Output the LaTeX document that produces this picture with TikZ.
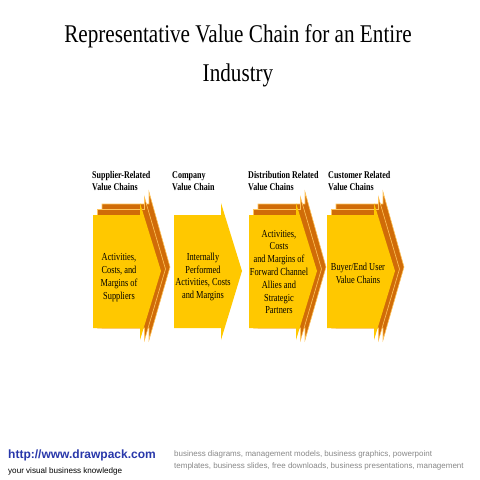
\documentclass[tikz,border=0pt]{standalone}
\usepackage{fontspec}
\setmainfont{Liberation Serif}
\newfontfamily\titlefont[FakeStretch=0.83]{Liberation Serif}
\newfontfamily\boxfont[FakeStretch=0.78]{Liberation Serif}
\newfontfamily\footfont{Liberation Sans}

\definecolor{chainyellow}{RGB}{255,200,0}
\definecolor{chainorange}{RGB}{208,108,8}
\definecolor{chainedge}{RGB}{255,196,90}
\definecolor{linkblue}{RGB}{40,55,170}
\definecolor{footgray}{RGB}{135,135,135}

\tikzset{
  front/.style={fill=chainyellow},
  back/.style={fill=chainorange, draw=chainedge, line width=0.6pt},
  chainhead/.style={font=\boxfont\bfseries\fontsize{10.3}{12}\selectfont, anchor=north west, align=left, inner sep=0pt},
  chainbody/.style={font=\boxfont\fontsize{10.7}{12.8}\selectfont, align=center, inner sep=0pt},
}

\begin{document}
\begin{tikzpicture}[x=1pt,y=-1pt]

\useasboundingbox (0,0) rectangle (480,480);

\node[font=\titlefont\fontsize{25.5}{38.5}\selectfont, align=center, anchor=north, inner sep=0pt] (title) at (238,24.6)
  {Representative Value Chain for an Entire\\Industry};

% supplier
\begin{scope}[xshift=93pt]
\filldraw[back] (9,204) -- (56,204) -- (56,192) -- (77,267) -- (56,340) -- (56,328) -- (9,328) -- cycle;
\filldraw[back] (4.5,209.5) -- (51.5,209.5) -- (51.5,197.5) -- (72.5,269) -- (51.5,340) -- (51.5,328) -- (4.5,328) -- cycle;
\fill[front] (0,215) -- (47,215) -- (47,203) -- (68,271) -- (47,340) -- (47,328) -- (0,328) -- cycle;

\node[chainhead] (suphead) at (-1,171) {Supplier-Related\\Value Chains};
\node[chainbody] (supbody) at (26,277.5) {Activities,\\Costs, and\\Margins of\\Suppliers};
\end{scope}

% company
\begin{scope}[xshift=174pt]
\fill[front] (0,215) -- (47,215) -- (47,203) -- (68,271) -- (47,340) -- (47,328) -- (0,328) -- cycle;

\node[chainhead] (comphead) at (-2,171) {Company\\Value Chain};
\node[chainbody] (compbody) at (29,277) {Internally\\Performed\\Activities, Costs\\and Margins};
\end{scope}

% distribution
\begin{scope}[xshift=249pt]
\filldraw[back] (9,204) -- (56,204) -- (56,192) -- (77,267) -- (56,340) -- (56,328) -- (9,328) -- cycle;
\filldraw[back] (4.5,209.5) -- (51.5,209.5) -- (51.5,197.5) -- (72.5,269) -- (51.5,340) -- (51.5,328) -- (4.5,328) -- cycle;
\fill[front] (0,215) -- (47,215) -- (47,203) -- (68,271) -- (47,340) -- (47,328) -- (0,328) -- cycle;

\node[chainhead] (disthead) at (-1,171) {Distribution Related\\Value Chains};
\node[chainbody] (distbody) at (30,272) {Activities,\\Costs\\and Margins of\\Forward Channel\\Allies and\\Strategic\\Partners};
\end{scope}

% customer
\begin{scope}[xshift=327pt]
\filldraw[back] (9,204) -- (56,204) -- (56,192) -- (77,267) -- (56,340) -- (56,328) -- (9,328) -- cycle;
\filldraw[back] (4.5,209.5) -- (51.5,209.5) -- (51.5,197.5) -- (72.5,269) -- (51.5,340) -- (51.5,328) -- (4.5,328) -- cycle;
\fill[front] (0,215) -- (47,215) -- (47,203) -- (68,271) -- (47,340) -- (47,328) -- (0,328) -- cycle;

\node[chainhead] (custhead) at (1,171) {Customer Related\\Value Chains};
\node[chainbody] (custbody) at (31,273) {Buyer/End User\\Value Chains};
\end{scope}

% footer
\node[font=\footfont\bfseries\fontsize{12}{14}\selectfont, text=linkblue, anchor=base west, inner sep=0pt] (url) at (8,458) {http://www.drawpack.com};
\node[font=\footfont\fontsize{8.1}{10}\selectfont, anchor=base west, inner sep=0pt] (tagline) at (8,473.5) {your visual business knowledge};
\node[font=\footfont\fontsize{8}{12}\selectfont, text=footgray, anchor=north west, align=left, inner sep=0pt] (keywords) at (174,450.2)
  {business diagrams, management models, business graphics, powerpoint\\templates, business slides, free downloads, business presentations, management};

\end{tikzpicture}
\end{document}
